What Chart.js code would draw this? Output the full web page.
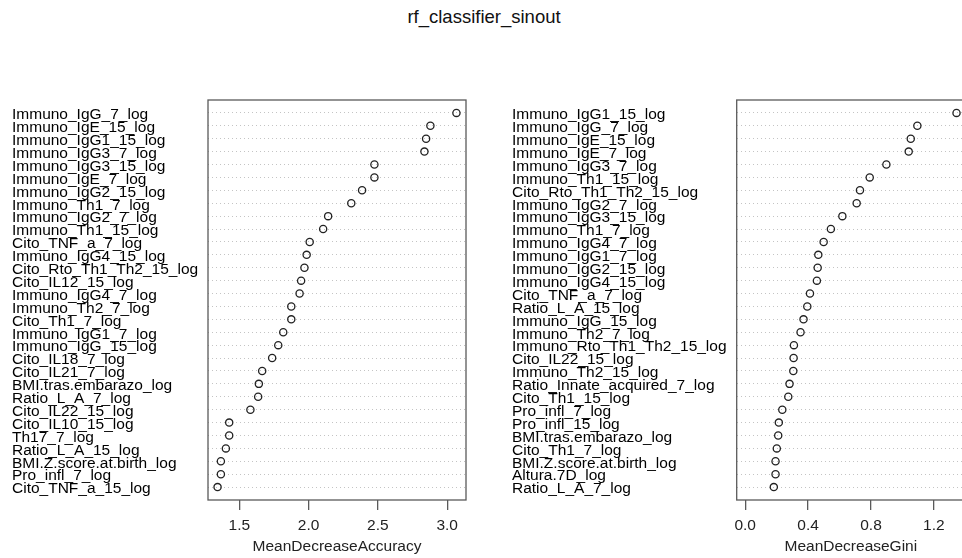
<!DOCTYPE html>
<html>
<head>
<meta charset="utf-8">
<script src="https://cdn.jsdelivr.net/npm/chart.js@4.4.1/dist/chart.umd.min.js"></script>
<style>
  html, body { margin: 0; padding: 0; background: #fff; }
  body { width: 962px; height: 558px; overflow: hidden; position: relative; font-family: "Liberation Sans", Arial, sans-serif; }
  #title { position: absolute; left: 3px; width: 962px; top: 8px; line-height: 1; text-align: center; font-size: 18.5px; color: #111; }
  .wrap { position: absolute; top: 0; height: 558px; }
  #accWrap { left: 0; width: 481px; }
  #giniWrap { left: 500px; width: 500px; }
</style>
</head>
<body>
<div id="title">rf_classifier_sinout</div>
<div class="wrap" id="accWrap"><canvas id="accChart"></canvas></div>
<div class="wrap" id="giniWrap"><canvas id="giniChart"></canvas></div>
<script>
// variables ordered top -> bottom, as in the plot
const accLabels = [
  "Immuno_IgG_7_log", "Immuno_IgE_15_log", "Immuno_IgG1_15_log", "Immuno_IgG3_7_log",
  "Immuno_IgG3_15_log", "Immuno_IgE_7_log", "Immuno_IgG2_15_log", "Immuno_Th1_7_log",
  "Immuno_IgG2_7_log", "Immuno_Th1_15_log", "Cito_TNF_a_7_log", "Immuno_IgG4_15_log",
  "Cito_Rto_Th1_Th2_15_log", "Cito_IL12_15_log", "Immuno_IgG4_7_log", "Immuno_Th2_7_log",
  "Cito_Th1_7_log", "Immuno_IgG1_7_log", "Immuno_IgG_15_log", "Cito_IL18_7_log",
  "Cito_IL21_7_log", "BMI.tras.embarazo_log", "Ratio_L_A_7_log", "Cito_IL22_15_log",
  "Cito_IL10_15_log", "Th17_7_log", "Ratio_L_A_15_log", "BMI.Z.score.at.birth_log",
  "Pro_infl_7_log", "Cito_TNF_a_15_log"
];
const accValues = [
  3.067, 2.879, 2.848, 2.836, 2.475, 2.475, 2.386, 2.308, 2.141, 2.105,
  2.008, 1.986, 1.970, 1.946, 1.935, 1.875, 1.875, 1.817, 1.781, 1.737,
  1.665, 1.641, 1.636, 1.580, 1.427, 1.427, 1.403, 1.367, 1.367, 1.343
];
const accTicks = [1.5, 2.0, 2.5, 3.0];

const giniLabels = [
  "Immuno_IgG1_15_log", "Immuno_IgG_7_log", "Immuno_IgE_15_log", "Immuno_IgE_7_log",
  "Immuno_IgG3_7_log", "Immuno_Th1_15_log", "Cito_Rto_Th1_Th2_15_log", "Immuno_IgG2_7_log",
  "Immuno_IgG3_15_log", "Immuno_Th1_7_log", "Immuno_IgG4_7_log", "Immuno_IgG1_7_log",
  "Immuno_IgG2_15_log", "Immuno_IgG4_15_log", "Cito_TNF_a_7_log", "Ratio_L_A_15_log",
  "Immuno_IgG_15_log", "Immuno_Th2_7_log", "Immuno_Rto_Th1_Th2_15_log", "Cito_IL22_15_log",
  "Immuno_Th2_15_log", "Ratio_Innate_acquired_7_log", "Cito_Th1_15_log", "Pro_infl_7_log",
  "Pro_infl_15_log", "BMI.tras.embarazo_log", "Cito_Th1_7_log", "BMI.Z.score.at.birth_log",
  "Altura.7D_log", "Ratio_L_A_7_log"
];
const giniValues = [
  1.344, 1.095, 1.053, 1.040, 0.898, 0.792, 0.730, 0.709, 0.618, 0.545,
  0.499, 0.465, 0.461, 0.456, 0.412, 0.395, 0.371, 0.352, 0.310, 0.308,
  0.306, 0.282, 0.274, 0.236, 0.214, 0.210, 0.201, 0.193, 0.193, 0.182
];
const giniTicks = [0.0, 0.4, 0.8, 1.2];

const FONT = "'Liberation Sans', Arial, sans-serif";

// frame round the plot region, like R's box()
const boxPlugin = {
  id: "box",
  afterDraw(chart) {
    const { ctx, chartArea: a } = chart;
    ctx.save();
    ctx.strokeStyle = "#5a5a5a";
    ctx.lineWidth = 1.3;
    ctx.strokeRect(a.left, a.top, a.right - a.left, a.bottom - a.top);
    ctx.restore();
  },
};

function dotChart(canvasId, labels, values, ticks, xTitle, xMin, xMax, yAxisWidth, padRight) {
  const n = labels.length;
  const points = values.map((v, i) => ({ x: v, y: n - i }));
  return new Chart(document.getElementById(canvasId), {
    type: "scatter",
    data: {
      datasets: [{
        data: points,
        pointStyle: "circle",
        pointRadius: 3.6,
        pointHoverRadius: 3.6,
        pointBorderWidth: 1.3,
        borderColor: "#222",
        backgroundColor: "rgba(0,0,0,0)",
      }],
    },
    options: {
      responsive: true,
      maintainAspectRatio: false,
      animation: false,
      events: [],
      layout: { padding: { left: 12, top: 100, right: padRight, bottom: 0 } },
      plugins: { legend: { display: false }, tooltip: { enabled: false } },
      scales: {
        x: {
          type: "linear",
          min: xMin,
          max: xMax,
          afterBuildTicks: (s) => { s.ticks = ticks.map((v) => ({ value: v })); },
          afterFit: (s) => { s.height = 58; },
          grid: { drawOnChartArea: false, drawTicks: true, tickLength: 10, color: "#5a5a5a", lineWidth: 1.3 },
          border: { display: false },
          ticks: {
            color: "#222",
            padding: 6,
            maxRotation: 0,
            autoSkip: false,
            font: { family: FONT, size: 15.5 },
            callback: (v) => Number(v).toFixed(1),
          },
          title: {
            display: true,
            text: xTitle,
            color: "#222",
            padding: { top: 0, bottom: 2 },
            font: { family: FONT, size: 15.5 },
          },
        },
        y: {
          type: "linear",
          min: 0,
          max: n + 1,
          afterBuildTicks: (s) => { s.ticks = labels.map((_, i) => ({ value: n - i })); },
          afterFit: (s) => { s.width = yAxisWidth; },
          grid: { drawTicks: false, color: "#c4c4c4", lineWidth: 1 },
          border: { display: false, dash: [1, 3] },
          ticks: {
            color: "#000",
            crossAlign: "far",
            padding: 0,
            labelOffset: 2,
            autoSkip: false,
            font: { family: FONT, size: 15.5 },
            callback: (v) => labels[n - v],
          },
        },
      },
    },
    plugins: [boxPlugin],
  });
}

dotChart("accChart", accLabels, accValues, accTicks, "MeanDecreaseAccuracy", 1.274, 3.136, 196, 15);
dotChart("giniChart", giniLabels, giniValues, giniTicks, "MeanDecreaseGini", -0.054, 1.398, 224.7, 35);
</script>
</body>
</html>
